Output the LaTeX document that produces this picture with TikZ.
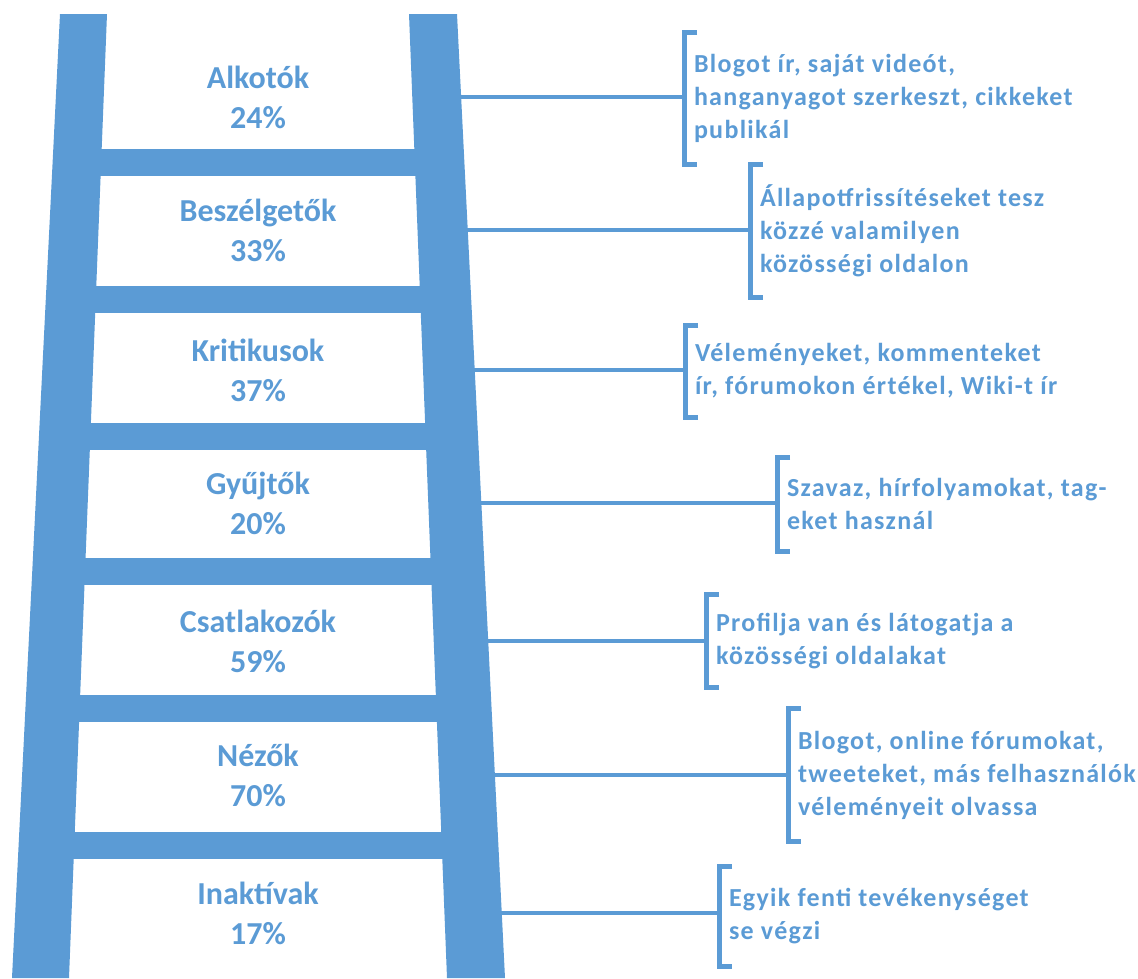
\documentclass[tikz,border=0pt]{standalone}
\usepackage{fontspec}
\setmainfont{Carlito}
\newfontfamily\descfont{Carlito}[LetterSpace=5]
\definecolor{ladderblue}{HTML}{5B9BD5}
\begin{document}
\begin{tikzpicture}[x=1pt,y=-1pt,
    rung label/.style={align=center,text=ladderblue,font=\bfseries\fontsize{32}{40}\selectfont},
    desc/.style={anchor=west,align=left,inner xsep=10pt,inner ysep=0pt,outer sep=0pt,
      text=ladderblue,font=\descfont\bfseries\fontsize{26}{33}\selectfont},
    link/.style={draw=ladderblue,line width=4pt},
    brk/.style={draw=ladderblue,line width=5pt,line join=miter}]
    \useasboundingbox (0,0) rectangle (1138,978);
    % rails
    \fill[ladderblue] (60,14)--(107,14)--(69,978)--(12,978)--cycle;
    \fill[ladderblue] (409,14)--(457,14)--(505,978)--(447,978)--cycle;
    % rungs
    \foreach \t in {149,286,423,558,695,832} {
      \pgfmathsetmacro{\xl}{83.5-(\t-1)/964*43}
      \pgfmathsetmacro{\xr}{433+(\t-1)/964*43}
      \fill[ladderblue] (\xl,\t) rectangle (\xr,\t+27);
    }
    \node[rung label] (alkotok) at (258,97) {Alkotók\\24\%};
    \node[rung label] (beszelgetok) at (258,230) {Beszélgetők\\33\%};
    \node[rung label] (kritikusok) at (258,370) {Kritikusok\\37\%};
    \node[rung label] (gyujtok) at (258,503) {Gyűjtők\\20\%};
    \node[rung label] (csatlakozok) at (258,641) {Csatlakozók\\59\%};
    \node[rung label] (nezok) at (258,775) {Nézők\\70\%};
    \node[rung label] (inaktivak) at (258,913) {Inaktívak\\17\%};
    \coordinate (rail1) at (437,97);
    \coordinate (rail2) at (443,230);
    \coordinate (rail3) at (449,370);
    \coordinate (rail4) at (455,503);
    \coordinate (rail5) at (461,641);
    \coordinate (rail6) at (467,775);
    \coordinate (rail7) at (473,913);
    \node[desc,minimum height=132pt] (desc1) at (684,98) {Blogot ír, saját videót,\\hanganyagot szerkeszt, cikkeket\\publikál};
    \node[desc,minimum height=133pt] (desc2) at (750,231) {Állapotfrissítéseket tesz\\közzé valamilyen\\közösségi oldalon};
    \node[desc,minimum height=92pt] (desc3) at (685,371) {Véleményeket, kommenteket\\ír, fórumokon értékel, Wiki-t ír};
    \node[desc,minimum height=94pt] (desc4) at (777,504) {Szavaz, hírfolyamokat, tag-\\eket használ};
    \node[desc,minimum height=93pt] (desc5) at (706,641) {Profilja van és látogatja a\\közösségi oldalakat};
    \node[desc,minimum height=133pt] (desc6) at (788,775) {Blogot, online fórumokat,\\tweeteket, más felhasználók\\véleményeit olvassa};
    \node[desc,minimum height=100pt] (desc7) at (719,916) {Egyik fenti tevékenységet\\se végzi};
    % connectors and brackets
    \foreach \i in {1,...,7} {
      \draw[link] (rail\i) -- (rail\i -| desc\i.west);
      \draw[brk] ([xshift=13pt]desc\i.north west) -- (desc\i.north west)
        -- (desc\i.south west) -- ([xshift=13pt]desc\i.south west);
    }
\end{tikzpicture}
\end{document}
